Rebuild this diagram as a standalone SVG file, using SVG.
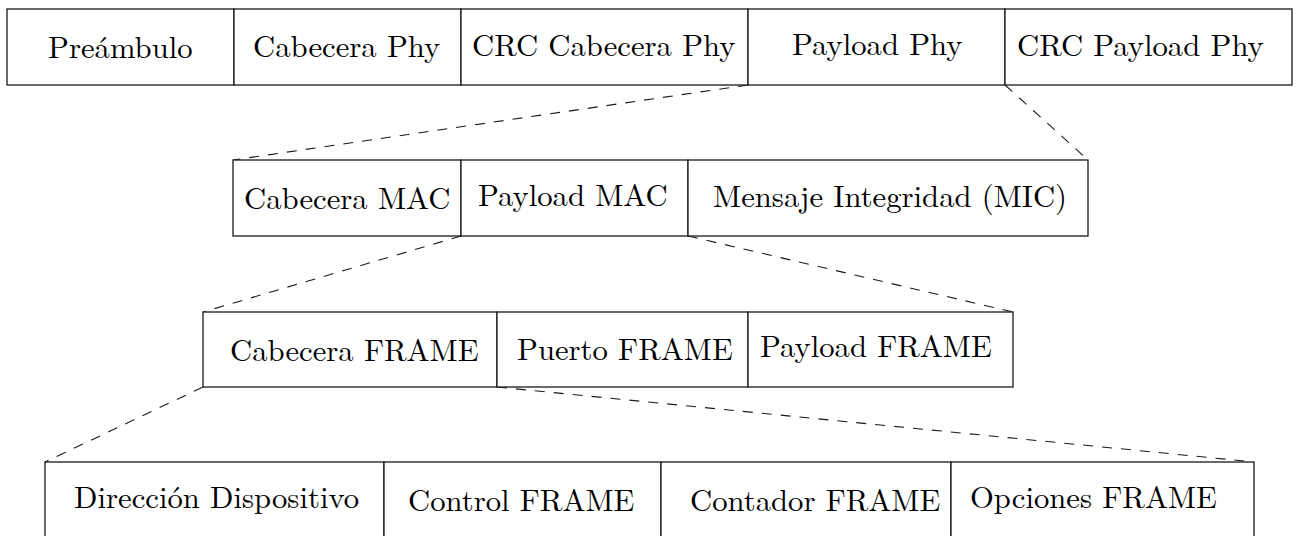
<svg xmlns="http://www.w3.org/2000/svg" width="1296" height="536" viewBox="0 0 1296 536">
  <style>
    .cell rect { fill: #ffffff; stroke: #1a1a1a; stroke-width: 1.3; }
    .cell text { font-family: "Latin Modern Roman", "Liberation Serif", serif; font-size: 30.7px; fill: #000000; }
    .link { fill: none; stroke: #1a1a1a; stroke-width: 1.1; stroke-dasharray: 10 9; }
  </style>
  <rect width="1296" height="536" fill="#ffffff"/>

  <!-- connectors: dashed expansion lines between layers -->
  <g id="connectors">
    <line class="link" x1="748" y1="85" x2="233" y2="160"/>
    <line class="link" x1="1005" y1="85" x2="1088" y2="160"/>
    <line class="link" x1="461" y1="236" x2="203" y2="312"/>
    <line class="link" x1="688" y1="236" x2="1013" y2="312"/>
    <line class="link" x1="203" y1="387" x2="45" y2="462"/>
    <line class="link" x1="497" y1="387" x2="1254" y2="462"/>
  </g>

  <!-- PHY layer -->
  <g id="phy">
    <g id="preambulo" class="cell">
      <rect x="7" y="9" width="227" height="76"/>
      <text x="48" y="58">Preámbulo</text>
    </g>
    <g id="cabecera-phy" class="cell">
      <rect x="234" y="9" width="227" height="76"/>
      <text x="253" y="57">Cabecera Phy</text>
    </g>
    <g id="crc-cabecera-phy" class="cell">
      <rect x="461" y="9" width="287" height="76"/>
      <text x="472" y="56">CRC Cabecera Phy</text>
    </g>
    <g id="payload-phy" class="cell">
      <rect x="748" y="9" width="257" height="76"/>
      <text x="792" y="55">Payload Phy</text>
    </g>
    <g id="crc-payload-phy" class="cell">
      <rect x="1005" y="9" width="287" height="76"/>
      <text x="1017" y="56">CRC Payload Phy</text>
    </g>
  </g>

  <!-- MAC layer -->
  <g id="mac">
    <g id="cabecera-mac" class="cell">
      <rect x="233" y="160" width="228" height="76"/>
      <text x="244" y="209">Cabecera MAC</text>
    </g>
    <g id="payload-mac" class="cell">
      <rect x="461" y="160" width="227" height="76"/>
      <text x="478" y="206">Payload MAC</text>
    </g>
    <g id="mic" class="cell">
      <rect x="688" y="160" width="400" height="76"/>
      <text x="713" y="207">Mensaje Integridad (MIC)</text>
    </g>
  </g>

  <!-- FRAME layer -->
  <g id="frame">
    <g id="cabecera-frame" class="cell">
      <rect x="203" y="312" width="294" height="75"/>
      <text x="230" y="361">Cabecera FRAME</text>
    </g>
    <g id="puerto-frame" class="cell">
      <rect x="497" y="312" width="251" height="75"/>
      <text x="517" y="360">Puerto FRAME</text>
    </g>
    <g id="payload-frame" class="cell">
      <rect x="748" y="312" width="265" height="75"/>
      <text x="760" y="357">Payload FRAME</text>
    </g>
  </g>

  <!-- FRAME header fields -->
  <g id="fhdr">
    <g id="direccion" class="cell">
      <rect x="45" y="462" width="339" height="80"/>
      <text x="74" y="508">Dirección Dispositivo</text>
    </g>
    <g id="control-frame" class="cell">
      <rect x="384" y="462" width="277" height="80"/>
      <text x="408" y="511">Control FRAME</text>
    </g>
    <g id="contador-frame" class="cell">
      <rect x="661" y="462" width="290" height="80"/>
      <text x="690" y="511">Contador FRAME</text>
    </g>
    <g id="opciones-frame" class="cell">
      <rect x="951" y="462" width="303" height="80"/>
      <text x="970" y="508">Opciones FRAME</text>
    </g>
  </g>
</svg>
